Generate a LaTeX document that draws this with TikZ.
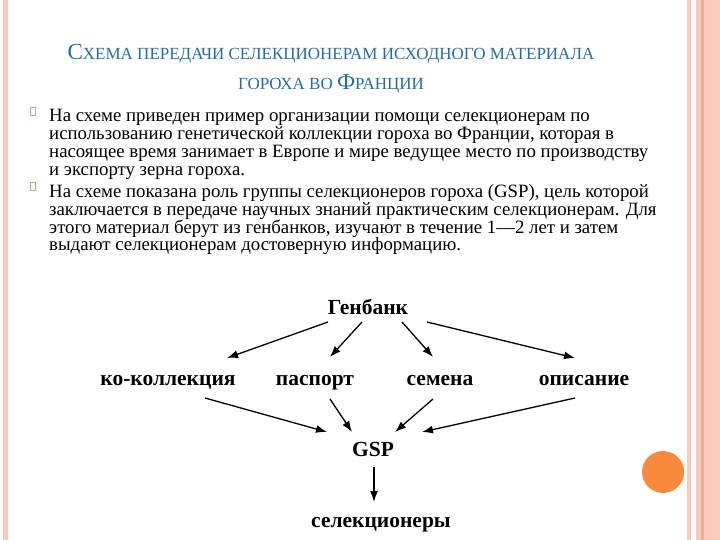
\documentclass[tikz,border=0pt]{standalone}
\usepackage{fontspec}
\setmainfont{Liberation Serif}
\usetikzlibrary{arrows.meta,calc}

\definecolor{titleblue}{RGB}{36,110,168}
\definecolor{stripe}{RGB}{250,202,188}
\definecolor{stripedark}{RGB}{240,172,142}
\definecolor{dotorange}{RGB}{250,138,60}
\definecolor{bullettan}{RGB}{196,168,140}

% big first letters of the small-caps title
\newcommand\capl[1]{{\fontsize{23}{23}\selectfont #1}}

\tikzset{
	ttl/.style={text=titleblue, font=\fontsize{17}{30}\selectfont, align=center},
	para/.style={anchor=north west, inner sep=0pt, align=left, font=\fontsize{18.8}{17.9}\selectfont},
	bulletbox/.style={draw=bullettan, line width=0.6pt, minimum width=5pt, minimum height=8pt, inner sep=0pt},
	lbl/.style={anchor=base, font=\bfseries\fontsize{21.5}{21.5}\selectfont, inner sep=2pt},
	arr/.style={-{Latex[length=11pt,width=8pt]}, line width=1.3pt}
}

\begin{document}
\begin{tikzpicture}[x=1pt, y=-1pt]
	\useasboundingbox (0,0) rectangle (720,540);
	\fill[white] (0,0) rectangle (720,540);

	% slide frame
	\fill[stripe] (3,0) rectangle (8,540);
	\fill[stripe] (687,0) rectangle (691,540);
	\fill[stripe] (696,0) rectangle (720,540);
	\fill[stripedark] (701,0) rectangle (703.5,540);
	\fill[dotorange] (663,472) circle (21pt);

	% title
	\node[ttl] (title) at (331,69)
		{\capl{С}ХЕМА ПЕРЕДАЧИ СЕЛЕКЦИОНЕРАМ ИСХОДНОГО МАТЕРИАЛА\\
		 ГОРОХА ВО \capl{Ф}РАНЦИИ};

	% text
	\node[bulletbox] (b1) at (33,111) {};
	\node[para] (p1) at (49,109)
		{На схеме приведен пример организации помощи селекционерам по\\
		 использованию генетической коллекции гороха во Франции, которая в\\
		 насоящее время занимает в Европе и мире ведущее место по производству\\
		 и экспорту зерна гороха.};
	\node[bulletbox] (b2) at (33,186) {};
	\node[para] (p2) at (49,184)
		{На схеме показана роль группы селекционеров гороха (GSP), цель которой\\
		 заключается в передаче научных знаний практическим селекционерам. Для\\
		 этого материал берут из генбанков, изучают в течение 1---2 лет и затем\\
		 выдают селекционерам достоверную информацию.};

	% scheme
	\node[lbl] (gen) at (368,314) {Генбанк};
	\node[lbl] (kol) at (168,385) {ко-коллекция};
	\node[lbl] (pas) at (315,385) {паспорт};
	\node[lbl] (sem) at (440,385) {семена};
	\node[lbl] (opi) at (584,385) {описание};
	\node[lbl] (gsp) at (373,456) {GSP};
	\node[lbl] (sel) at (381,527) {селекционеры};

	\draw[arr] ($(gen.base)+(-40,8)$) -- ($(kol.base)+(59,-27)$);
	\draw[arr] ($(gen.base)+(-6,8)$) -- ($(pas.base)+(15,-28)$);
	\draw[arr] ($(gen.base)+(34,8)$) -- ($(sem.base)+(-7,-28)$);
	\draw[arr] ($(gen.base)+(59,8)$) -- ($(opi.base)+(-9,-27)$);

	\draw[arr] ($(kol.base)+(37,13)$) -- ($(gsp.base)+(-46,-24)$);
	\draw[arr] ($(pas.base)+(15,14)$) -- ($(gsp.base)+(-21,-24)$);
	\draw[arr] ($(sem.base)+(-7,14)$) -- ($(gsp.base)+(22,-24)$);
	\draw[arr] ($(opi.base)+(-9,13)$) -- ($(gsp.base)+(49,-24)$);

	\draw[arr] ($(gsp.base)+(1,11)$) -- ($(sel.base)+(-7,-25)$);
\end{tikzpicture}
\end{document}
